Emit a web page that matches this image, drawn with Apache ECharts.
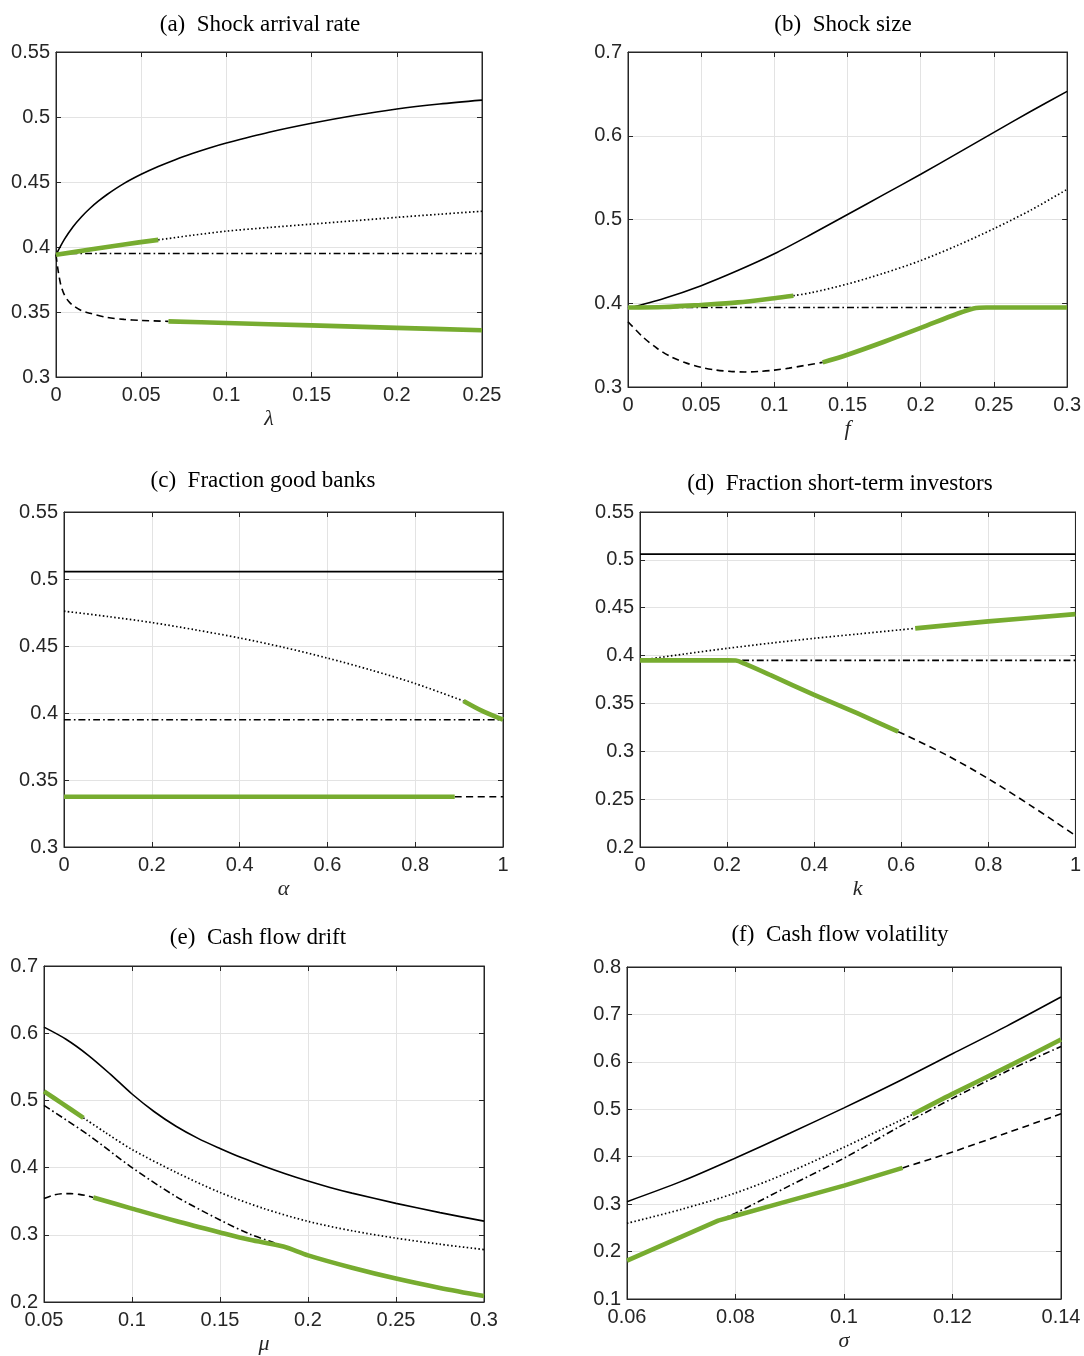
<!DOCTYPE html>
<html>
<head>
<meta charset="utf-8">
<script src="https://cdn.jsdelivr.net/npm/echarts@6/dist/echarts.min.js"></script>
<style>
  html, body { margin: 0; padding: 0; background: #fff; }
  #chart { width: 1084px; height: 1356px; }
</style>
</head>
<body>
<div id="chart"></div>
<script>
// (a) shock arrival rate
const aXRange = [0, 0.25, 0.05];
const aYRange = [0.3, 0.55, 0.05];
const aSolid = [[0, 0.394], [0.005, 0.406], [0.01, 0.4156], [0.015, 0.4233], [0.02, 0.4298], [0.025, 0.4354], [0.03, 0.4404], [0.04, 0.4489], [0.05, 0.4559], [0.06, 0.4619], [0.07, 0.4672], [0.08, 0.4719], [0.09, 0.4762], [0.1, 0.48], [0.125, 0.4883], [0.15, 0.4952], [0.175, 0.5012], [0.2, 0.5062], [0.225, 0.51], [0.25, 0.513]];
const aDotted = [[0.06, 0.4055], [0.08, 0.409], [0.1, 0.4122], [0.125, 0.415], [0.15, 0.4176], [0.175, 0.4202], [0.2, 0.4228], [0.225, 0.4252], [0.25, 0.4275]];
const aDashDot = [[0, 0.395], [0.25, 0.395]];
const aDashed = [[0, 0.394], [0.001, 0.384], [0.002, 0.376], [0.003, 0.37], [0.005, 0.363], [0.0075, 0.358], [0.01, 0.355], [0.015, 0.351], [0.02, 0.349], [0.03, 0.3458], [0.04, 0.3443], [0.05, 0.3435], [0.066, 0.3428]];
const aGreenUp = [[0, 0.394], [0.02, 0.398], [0.04, 0.402], [0.06, 0.4055]];
const aGreenLow = [[0.066, 0.3428], [0.1, 0.3415], [0.15, 0.3397], [0.2, 0.3378], [0.25, 0.336]];

// (b) shock size
const bXRange = [0, 0.3, 0.05];
const bYRange = [0.3, 0.7, 0.1];
const bSolid = [[0, 0.394], [0.025, 0.406], [0.05, 0.421], [0.075, 0.439], [0.1, 0.459], [0.125, 0.482], [0.15, 0.506], [0.175, 0.53], [0.2, 0.554], [0.225, 0.579], [0.25, 0.604], [0.275, 0.629], [0.3, 0.653]];
const bDotted = [[0.113, 0.409], [0.125, 0.4125], [0.15, 0.423], [0.175, 0.436], [0.2, 0.451], [0.225, 0.469], [0.25, 0.489], [0.275, 0.511], [0.3, 0.536]];
const bDashDot = [[0, 0.395], [0.3, 0.395]];
const bDashed = [[0, 0.378], [0.01, 0.36], [0.02, 0.346], [0.03, 0.3355], [0.04, 0.3285], [0.05, 0.3235], [0.06, 0.3203], [0.07, 0.3186], [0.08, 0.318], [0.09, 0.3186], [0.1, 0.3202], [0.11, 0.3225], [0.12, 0.3255], [0.133, 0.3294]];
const bGreenUp = [[0, 0.395], [0.025, 0.3955], [0.05, 0.398], [0.075, 0.401], [0.1, 0.406], [0.113, 0.409]];
const bGreenLow = [[0.133, 0.3294], [0.15, 0.3385], [0.175, 0.354], [0.2, 0.3705], [0.225, 0.3875], [0.236, 0.3938], [0.245, 0.395], [0.27, 0.395], [0.3, 0.395]];

// (c) fraction good banks
const cXRange = [0, 1, 0.2];
const cYRange = [0.3, 0.55, 0.05];
const cSolid = [[0, 0.5055], [1, 0.5055]];
const cDotted = [[0, 0.476], [0.1, 0.472], [0.2, 0.4675], [0.3, 0.462], [0.4, 0.456], [0.5, 0.449], [0.6, 0.441], [0.7, 0.432], [0.8, 0.422], [0.91, 0.409]];
const cDashDot = [[0, 0.395], [1, 0.395]];
const cDashed = [[0.89, 0.3375], [1, 0.3375]];
const cGreenUp = [[0.91, 0.409], [0.95, 0.402], [1, 0.395]];
const cGreenLow = [[0, 0.3375], [0.89, 0.3375]];

// (d) fraction short-term investors
const dXRange = [0, 1, 0.2];
const dYRange = [0.2, 0.55, 0.05];
const dSolid = [[0, 0.506], [1, 0.506]];
const dDotted = [[0, 0.395], [0.1, 0.4015], [0.2, 0.4075], [0.3, 0.413], [0.4, 0.418], [0.5, 0.4225], [0.6, 0.427], [0.632, 0.4284]];
const dDashDot = [[0, 0.395], [1, 0.395]];
const dDashed = [[0.593, 0.3205], [0.7, 0.297], [0.8, 0.2713], [0.9, 0.2425], [1, 0.212]];
const dGreenUp = [[0.632, 0.4284], [0.8, 0.4357], [1, 0.4433]];
const dGreenLow = [[0, 0.395], [0.1, 0.395], [0.2, 0.395], [0.22, 0.3948], [0.24, 0.3915], [0.3, 0.3795], [0.4, 0.359], [0.5, 0.3395], [0.593, 0.3205]];

// (e) cash flow drift
const eXRange = [0.05, 0.3, 0.05];
const eYRange = [0.2, 0.7, 0.1];
const eSolid = [[0.05, 0.609], [0.0625, 0.591], [0.075, 0.5675], [0.0875, 0.5395], [0.1, 0.5095], [0.1125, 0.4835], [0.125, 0.4615], [0.1375, 0.4435], [0.15, 0.4285], [0.1625, 0.4145], [0.175, 0.402], [0.1875, 0.3905], [0.2, 0.38], [0.2125, 0.3705], [0.225, 0.362], [0.25, 0.3468], [0.275, 0.333], [0.3, 0.3203]];
const eDotted = [[0.0724, 0.474], [0.085, 0.452], [0.1, 0.427], [0.125, 0.393], [0.15, 0.363], [0.175, 0.339], [0.2, 0.32], [0.225, 0.306], [0.25, 0.295], [0.275, 0.286], [0.3, 0.278]];
const eDashDot = [[0.05, 0.4925], [0.075, 0.449], [0.1, 0.4], [0.125, 0.357], [0.15, 0.322], [0.167, 0.301], [0.18, 0.289], [0.186, 0.2828]];
const eDashed = [[0.05, 0.354], [0.055, 0.3588], [0.06, 0.361], [0.065, 0.3613], [0.07, 0.3602], [0.075, 0.3578], [0.078, 0.3555]];
const eGreenUp = [[0.05, 0.5134], [0.06, 0.496], [0.0724, 0.474]];
const eGreenLow = [[0.078, 0.3555], [0.1, 0.339], [0.125, 0.3205], [0.15, 0.3035], [0.167, 0.2925], [0.186, 0.2825], [0.2, 0.2694], [0.225, 0.251], [0.25, 0.2349], [0.275, 0.221], [0.3, 0.2089]];

// (f) cash flow volatility
const fXRange = [0.06, 0.14, 0.02];
const fYRange = [0.1, 0.8, 0.1];
const fSolid = [[0.06, 0.3053], [0.07, 0.348], [0.08, 0.3975], [0.09, 0.4495], [0.1, 0.503], [0.11, 0.5586], [0.12, 0.617], [0.13, 0.6754], [0.14, 0.7367]];
const fDotted = [[0.06, 0.2596], [0.07, 0.289], [0.08, 0.3235], [0.09, 0.368], [0.1, 0.42], [0.11, 0.4745], [0.1126, 0.489]];
const fDashDot = [[0.0768, 0.2652], [0.08, 0.281], [0.09, 0.339], [0.1, 0.397], [0.11, 0.462], [0.12, 0.523], [0.13, 0.58], [0.14, 0.6325]];
const fDashed = [[0.1108, 0.3764], [0.12, 0.41], [0.13, 0.45], [0.14, 0.4904]];
const fGreenUp = [[0.1126, 0.489], [0.12, 0.5326], [0.13, 0.5889], [0.14, 0.6473]];
const fGreenLow = [[0.06, 0.1807], [0.0768, 0.2652], [0.08, 0.2757], [0.09, 0.3074], [0.1, 0.3391], [0.1108, 0.3764]];

const AX = '#262626';
const GRIDLINE = '#e3e3e3';
const GREEN = '#77ac30';

const styles = {
  solid: { color: '#000', width: 1.6, type: 'solid' },
  dotted: { color: '#000', width: 1.7, type: [1.5, 2.4] },
  dashdot: { color: '#000', width: 1.6, type: [7, 3, 1.6, 3] },
  dashed: { color: '#000', width: 1.6, type: [7, 4.5] }
};

const panels = [
  { title: '(a)  Shock arrival rate', tx: 260, ty: 25, grid: { left: 56, top: 52, width: 426, height: 325 },
    xName: 'λ', xr: aXRange, yr: aYRange,
    black: [[aSolid, 'solid'], [aDotted, 'dotted'], [aDashDot, 'dashdot'], [aDashed, 'dashed']],
    green: [[aGreenUp, true], [aGreenLow, true]] },
  { title: '(b)  Shock size', tx: 843, ty: 25, grid: { left: 628, top: 52, width: 441, height: 335 },
    xName: 'f', xr: bXRange, yr: bYRange,
    black: [[bSolid, 'solid'], [bDotted, 'dotted'], [bDashDot, 'dashdot'], [bDashed, 'dashed']],
    green: [[bGreenUp, true], [bGreenLow, true]] },
  { title: '(c)  Fraction good banks', tx: 263, ty: 481, grid: { left: 64, top: 512, width: 439, height: 335 },
    xName: 'α', xr: cXRange, yr: cYRange,
    black: [[cSolid, 'solid'], [cDotted, 'dotted'], [cDashDot, 'dashdot'], [cDashed, 'dashed']],
    green: [[cGreenUp, true], [cGreenLow, false]] },
  { title: '(d)  Fraction short-term investors', tx: 840, ty: 484, grid: { left: 640, top: 512, width: 437, height: 335 },
    xName: 'k', xr: dXRange, yr: dYRange,
    black: [[dSolid, 'solid'], [dDotted, 'dotted'], [dDashDot, 'dashdot'], [dDashed, 'dashed']],
    green: [[dGreenUp, true], [dGreenLow, true]] },
  { title: '(e)  Cash flow drift', tx: 258, ty: 938, grid: { left: 44, top: 966, width: 440, height: 336 },
    xName: 'μ', xr: eXRange, yr: eYRange,
    black: [[eSolid, 'solid'], [eDotted, 'dotted'], [eDashDot, 'dashdot'], [eDashed, 'dashed']],
    green: [[eGreenUp, true], [eGreenLow, true]] },
  { title: '(f)  Cash flow volatility', tx: 840, ty: 935, grid: { left: 627, top: 967, width: 434, height: 332 },
    xName: 'σ', xr: fXRange, yr: fYRange,
    black: [[fSolid, 'solid'], [fDotted, 'dotted'], [fDashDot, 'dashdot'], [fDashed, 'dashed']],
    green: [[fGreenUp, true], [fGreenLow, false]] }
];

const fmt = (v) => String(Math.round(v * 1000) / 1000);

const grids = [], xAxes = [], yAxes = [], series = [], graphics = [];

panels.forEach((p, i) => {
  grids.push(Object.assign({ show: true, borderColor: AX, borderWidth: 1, backgroundColor: '#fff' }, p.grid));

  const tick = { show: true, inside: true, length: 5, lineStyle: { color: AX } };
  const base = (r) => ({ type: 'value', gridIndex: i, min: r[0], max: r[1], interval: r[2],
    axisLine: { show: true, onZero: false, lineStyle: { color: AX, width: 1 } }, axisTick: tick });

  xAxes.push(Object.assign(base(p.xr), {
    position: 'bottom',
    axisLabel: { margin: 8, fontFamily: 'Liberation Sans', fontSize: 20, color: AX, formatter: fmt },
    splitLine: { show: true, lineStyle: { color: GRIDLINE, width: 1 } },
    name: p.xName, nameLocation: 'middle', nameGap: 31,
    nameTextStyle: { fontFamily: 'Liberation Serif', fontStyle: 'italic', fontSize: 22, color: AX }
  }));
  xAxes.push(Object.assign(base(p.xr), { position: 'top', axisLabel: { show: false }, splitLine: { show: false } }));

  yAxes.push(Object.assign(base(p.yr), {
    position: 'left',
    axisLabel: { margin: 6, fontFamily: 'Liberation Sans', fontSize: 20, color: AX, formatter: fmt },
    splitLine: { show: true, lineStyle: { color: GRIDLINE, width: 1 } }
  }));
  yAxes.push(Object.assign(base(p.yr), { position: 'right', axisLabel: { show: false }, splitLine: { show: false } }));

  const ax = 2 * i;
  p.black.forEach(([data, kind]) => {
    series.push({ type: 'line', xAxisIndex: ax, yAxisIndex: ax, data: data, symbol: 'none',
      smooth: 0.3, lineStyle: styles[kind], z: 2, silent: true });
  });
  p.green.forEach(([data, smooth]) => {
    series.push({ type: 'line', xAxisIndex: ax, yAxisIndex: ax, data: data, symbol: 'none',
      smooth: smooth ? 0.3 : false,
      lineStyle: { color: GREEN, width: 4.6, cap: 'butt', join: 'round' }, z: 3, silent: true });
  });

  graphics.push({ type: 'text', x: p.tx, y: p.ty,
    style: { text: p.title, fontFamily: 'Liberation Serif', fontSize: 23, fill: '#000',
      textAlign: 'center', textVerticalAlign: 'middle' } });
});

const chart = echarts.init(document.getElementById('chart'));
chart.setOption({
  animation: false,
  backgroundColor: '#fff',
  grid: grids,
  xAxis: xAxes,
  yAxis: yAxes,
  series: series,
  graphic: graphics
});
</script>
</body>
</html>
